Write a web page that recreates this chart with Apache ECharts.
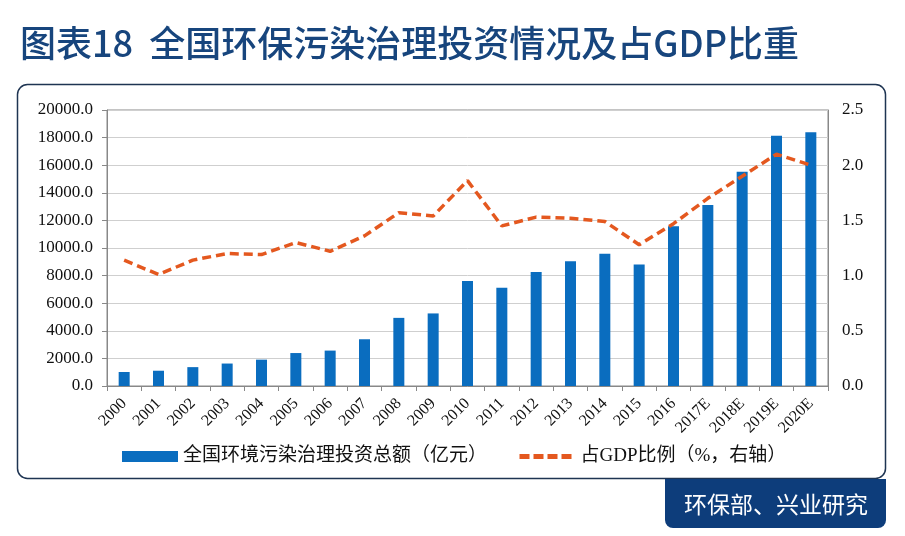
<!DOCTYPE html>
<html>
<head>
<meta charset="utf-8">
<script src="https://cdn.jsdelivr.net/npm/echarts@6/dist/echarts.min.js"></script>
<style>
html,body{margin:0;padding:0;background:#fff;}
#chart{width:905px;height:536px;}
</style>
</head>
<body>
<div id="chart"></div>
<script>
var categories = ['2000','2001','2002','2003','2004','2005','2006','2007','2008','2009','2010','2011','2012','2013','2014','2015','2016','2017E','2018E','2019E','2020E'];
var investment = [1014.9,1106.6,1367.2,1627.7,1909.8,2388.0,2566.0,3387.3,4937.0,5258.4,7612.2,7114.0,8253.5,9037.2,9575.5,8806.3,11580,13110,15530,18140,18380];
var gdpShare = [1.14,1.01,1.14,1.20,1.19,1.30,1.22,1.36,1.57,1.54,1.86,1.45,1.53,1.52,1.49,1.28,1.47,1.70,1.90,2.10,2.00];
var leftTicks = {min:0, max:20000, interval:2000};
var rightTicks = {min:0, max:2.5, interval:0.5};
var titleText = '图表18  全国环保污染治理投资情况及占GDP比重';
var sourceText = '环保部、兴业研究';
var barName = '全国环境污染治理投资总额（亿元）';
var lineName = '占GDP比例（%，右轴）';

var serif = '"Liberation Serif", "Noto Sans CJK SC", serif';
var chart = echarts.init(document.getElementById('chart'), null, {renderer:'canvas'});
chart.setOption({
  animation:false,
  backgroundColor:'#fff',
  title:{
    text:titleText, left:15, top:20,
    textStyle:{fontFamily:'"Noto Sans CJK SC", sans-serif', fontSize:36, fontWeight:500, color:'#17457D'}
  },
  graphic:[
    {type:'rect', shape:{x:17.5,y:84.5,width:868,height:394,r:10}, style:{fill:'none',stroke:'#1E3452',lineWidth:1.5}, z:-1},
    {type:'rect', shape:{x:665,y:479,width:221,height:49,r:[0,0,8,8]}, style:{fill:'#0D3D7B'}},
    {type:'text', x:776, y:504, style:{text:sourceText, fill:'#fff', font:'23px "Noto Sans CJK SC", sans-serif', align:'center', verticalAlign:'middle'}}
  ],
  grid:{left:107, right:77, top:110, bottom:150, show:true, borderColor:'#888', borderWidth:1},
  legend:{
    left:117, top:442, itemWidth:56, itemHeight:11, itemGap:30,
    textStyle:{fontFamily:serif, fontSize:19, color:'#111'},
    data:[{name:barName, icon:'rect'}, {name:lineName, itemStyle:{opacity:0}, lineStyle:{width:5, type:[10,4], color:'#E4581F'}}]
  },
  xAxis:{
    type:'category', data:categories, boundaryGap:true,
    axisLine:{lineStyle:{color:'#888'}},
    axisTick:{show:true, length:5, lineStyle:{color:'#888'}},
    axisLabel:{rotate:45, fontFamily:serif, fontSize:16, color:'#111', margin:15, interval:0}
  },
  yAxis:[
    {type:'value', min:leftTicks.min, max:leftTicks.max, interval:leftTicks.interval,
     axisLine:{show:true, lineStyle:{color:'#888'}},
     axisTick:{show:true, length:5, lineStyle:{color:'#888'}},
     splitLine:{lineStyle:{color:'#cfcfcf'}},
     axisLabel:{fontFamily:serif, fontSize:17, color:'#111', margin:14, formatter:function(v){return v.toFixed(1);}}},
    {type:'value', min:rightTicks.min, max:rightTicks.max, interval:rightTicks.interval,
     axisLine:{show:true, lineStyle:{color:'#888'}},
     axisTick:{show:false}, splitLine:{show:false},
     axisLabel:{fontFamily:serif, fontSize:17, color:'#111', margin:14, formatter:function(v){return v.toFixed(1);}}}
  ],
  series:[
    {name:barName, type:'bar', data:investment, barWidth:11, itemStyle:{color:'#0A6DBF'}, yAxisIndex:0},
    {name:lineName, type:'line', data:gdpShare, yAxisIndex:1, symbol:'none', smooth:false,
     lineStyle:{color:'#E4581F', width:3.5, type:[9,5]}, itemStyle:{color:'#E4581F'}}
  ]
});
</script>
</body>
</html>
